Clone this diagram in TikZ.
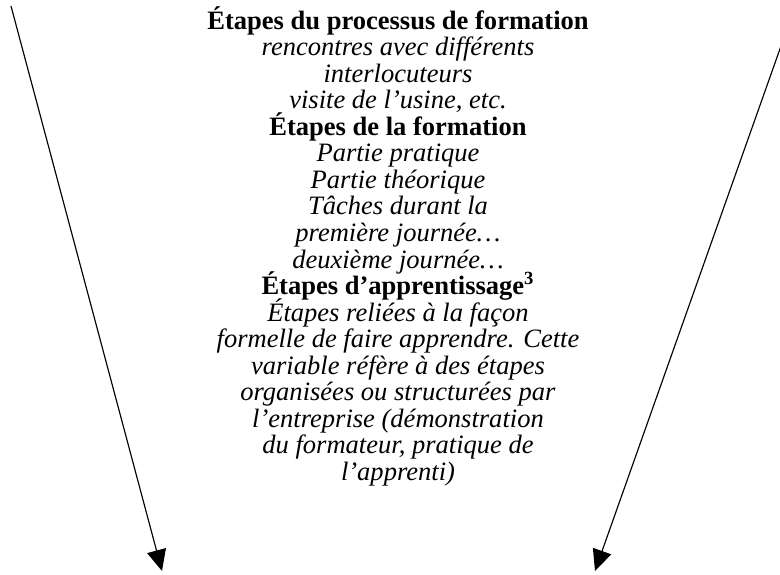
\documentclass[tikz,border=0pt]{standalone}
\usepackage{fontspec}
\setmainfont{Liberation Serif}[
    BoldFont={Liberation Serif Bold},
    ItalicFont={Liberation Serif Italic},
    BoldItalicFont={Liberation Serif Bold Italic}]
\usetikzlibrary{arrows.meta}
\newcommand\policeetapes{\fontsize{13.8}{13.8}\selectfont\lineskiplimit=-20pt\relax}
\begin{document}
\begin{tikzpicture}[x=0.52pt,y=-0.52pt,
    fleche/.style={-{Triangle[width=10pt,length=11pt]},line width=0.6pt}]
    \useasboundingbox (0,0) rectangle (780,574);
    \coordinate (hautg) at (11,6);
    \coordinate (basg) at (162,571);
    \coordinate (hautd) at (781,46);
    \coordinate (basd) at (595,571);
    \draw[fleche] (hautg) -- (basg);
    \draw[fleche] (hautd) -- (basd);
    \node[align=center,anchor=north,inner sep=0pt,
        font=\policeetapes] (etapes) at (398,6) {
        \textbf{Étapes du processus de formation}\\
        \textit{rencontres avec différents}\\
        \textit{interlocuteurs}\\
        \textit{visite de l’usine, etc.}\\
        \textbf{Étapes de la formation}\\
        \textit{Partie pratique}\\
        \textit{Partie théorique}\\
        \textit{Tâches durant la}\\
        \textit{première journée…}\\
        \textit{deuxième journée…}\\
        \textbf{Étapes d’apprentissage\textsuperscript{3}}\\
        \textit{Étapes reliées à la façon}\\
        \textit{formelle de faire apprendre. Cette}\\
        \textit{variable réfère à des étapes}\\
        \textit{organisées ou structurées par}\\
        \textit{l’entreprise (démonstration}\\
        \textit{du formateur, pratique de}\\
        \textit{l’apprenti)}};
\end{tikzpicture}
\end{document}
